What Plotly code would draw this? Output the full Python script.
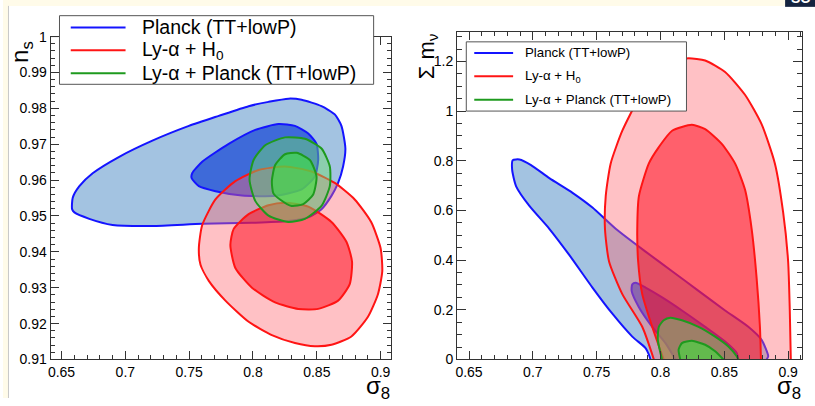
import plotly.graph_objects as go

# ---------------- tick labels ----------------
SIGMA8_TICKS = [0.65, 0.70, 0.75, 0.80, 0.85, 0.90]
SIGMA8_LABELS = ["0.65", "0.7", "0.75", "0.8", "0.85", "0.9"]
NS_TICKS = [0.91, 0.92, 0.93, 0.94, 0.95, 0.96, 0.97, 0.98, 0.99, 1.00]
NS_LABELS = ["0.91", "0.92", "0.93", "0.94", "0.95", "0.96", "0.97", "0.98", "0.99", "1"]
MNU_TICKS = [0, 0.2, 0.4, 0.6, 0.8, 1.0, 1.2]
MNU_LABELS = ["0", "0.2", "0.4", "0.6", "0.8", "1", "1.2"]

LEGEND_LABELS = ["Planck (TT+lowP)", "Ly-\u03b1 + H<sub>0</sub>", "Ly-\u03b1 + Planck (TT+lowP)"]

# ---------------- left panel: sigma8 vs n_s ----------------
PLANCK_NS_OUT_S8 = [0.6583, 0.6588, 0.6640, 0.6744, 0.6952, 0.7212, 0.7498, 0.7732, 0.7966, 0.8122,
                    0.8278, 0.8381, 0.8537, 0.8641, 0.8693, 0.8724, 0.8706, 0.8667, 0.8615, 0.8537,
                    0.8433, 0.8251, 0.7992, 0.7602, 0.7212, 0.6900, 0.6718, 0.6601]
PLANCK_NS_OUT_NS = [0.9519, 0.9551, 0.9583, 0.9619, 0.9665, 0.9710, 0.9751, 0.9779, 0.9806, 0.9818,
                    0.9827, 0.9824, 0.9806, 0.9783, 0.9751, 0.9688, 0.9638, 0.9592, 0.9556, 0.9519,
                    0.9496, 0.9485, 0.9481, 0.9478, 0.9472, 0.9475, 0.9492, 0.9510]
PLANCK_NS_IN_S8 = [0.7524, 0.7602, 0.7810, 0.8018, 0.8200, 0.8329, 0.8433, 0.8498, 0.8511, 0.8485,
                   0.8381, 0.8173, 0.7914, 0.7706, 0.7576, 0.7519]
PLANCK_NS_IN_NS = [0.9619, 0.9651, 0.9701, 0.9740, 0.9756, 0.9751, 0.9730, 0.9701, 0.9656, 0.9610,
                   0.9574, 0.9556, 0.9557, 0.9569, 0.9583, 0.9606]
LYAH0_NS_OUT_S8 = [0.7576, 0.7602, 0.7706, 0.7862, 0.8044, 0.8251, 0.8459, 0.8641, 0.8797, 0.8926,
                   0.9000, 0.9013, 0.8979, 0.8901, 0.8771, 0.8615, 0.8485, 0.8329, 0.8148, 0.7966,
                   0.7784, 0.7654, 0.7589]
LYAH0_NS_OUT_NS = [0.9410, 0.9474, 0.9546, 0.9597, 0.9628, 0.9638, 0.9624, 0.9592, 0.9546, 0.9483,
                   0.9410, 0.9346, 0.9282, 0.9219, 0.9164, 0.9141, 0.9137, 0.9146, 0.9168, 0.9205,
                   0.9264, 0.9319, 0.9364]
LYAH0_NS_IN_S8 = [0.7823, 0.7849, 0.7966, 0.8122, 0.8251, 0.8433, 0.8615, 0.8732, 0.8776, 0.8758,
                  0.8667, 0.8511, 0.8355, 0.8173, 0.7992, 0.7862]
LYAH0_NS_IN_NS = [0.9419, 0.9464, 0.9505, 0.9530, 0.9537, 0.9526, 0.9483, 0.9428, 0.9373, 0.9310,
                  0.9264, 0.9241, 0.9241, 0.9259, 0.9300, 0.9355]
LYAPL_NS_OUT_S8 = [0.7973, 0.8005, 0.8096, 0.8251, 0.8407, 0.8537, 0.8602, 0.8602, 0.8537, 0.8407,
                   0.8277, 0.8122, 0.8018]
LYAPL_NS_OUT_NS = [0.9601, 0.9656, 0.9697, 0.9719, 0.9715, 0.9688, 0.9638, 0.9583, 0.9528, 0.9492,
                   0.9483, 0.9501, 0.9542]
LYAPL_NS_IN_S8 = [0.8148, 0.8174, 0.8251, 0.8342, 0.8446, 0.8498, 0.8472, 0.8394, 0.8303, 0.8212, 0.8160]
LYAPL_NS_IN_NS = [0.9597, 0.9642, 0.9672, 0.9676, 0.9656, 0.9610, 0.9560, 0.9533, 0.9528, 0.9546, 0.9563]

# ---------------- right panel: sigma8 vs sum m_nu ----------------
PLANCK_MNU_OUT_S8 = [0.7922, 0.7909, 0.7883, 0.7779, 0.7623, 0.7467, 0.7285, 0.7129, 0.6973, 0.6869,
                     0.6838, 0.6843, 0.6895, 0.6986, 0.7129, 0.7311, 0.7467, 0.7649, 0.7883, 0.8091,
                     0.8298, 0.8506, 0.8688, 0.8792, 0.8844, 0.8831]
PLANCK_MNU_OUT_MNU = [0.0, 0.0197, 0.0461, 0.0921, 0.1842, 0.2895, 0.4211, 0.5263, 0.6184, 0.6974,
                      0.7632, 0.8026, 0.8053, 0.7829, 0.7303, 0.6711, 0.6118, 0.5263, 0.4342, 0.3553,
                      0.2763, 0.1974, 0.1316, 0.0789, 0.0132, 0.0]
PLANCK_MNU_IN_S8 = [0.8117, 0.8039, 0.7935, 0.7831, 0.7774, 0.7779, 0.7805, 0.7883, 0.8013, 0.8168,
                    0.8350, 0.8506, 0.8597, 0.8610]
PLANCK_MNU_IN_MNU = [0.0, 0.0658, 0.1316, 0.2105, 0.2763, 0.3026, 0.3092, 0.2895, 0.2500, 0.1974,
                     0.1316, 0.0724, 0.0263, 0.0]
LYAH0_MNU_OUT_S8 = [0.7948, 0.7857, 0.7701, 0.7597, 0.7565, 0.7571, 0.7610, 0.7701, 0.7831, 0.7987,
                    0.8116, 0.8220, 0.8350, 0.8506, 0.8662, 0.8792, 0.8896, 0.8961, 0.9000, 0.9013, 0.9021]
LYAH0_MNU_OUT_MNU = [0.0, 0.1316, 0.2632, 0.3947, 0.5263, 0.6579, 0.7895, 0.9211, 1.0526, 1.1645,
                     1.2039, 1.2132, 1.2039, 1.1579, 1.0658, 0.9474, 0.7895, 0.5921, 0.3947, 0.1974, 0.0]
LYAH0_MNU_IN_S8 = [0.8025, 0.7935, 0.7857, 0.7825, 0.7818, 0.7831, 0.7909, 0.7987, 0.8091, 0.8246,
                   0.8350, 0.8480, 0.8584, 0.8662, 0.8714, 0.8753, 0.8779, 0.8787]
LYAH0_MNU_IN_MNU = [0.0, 0.1316, 0.2632, 0.3947, 0.5263, 0.6579, 0.7895, 0.8553, 0.9211, 0.9447,
                    0.9276, 0.8684, 0.7895, 0.6842, 0.5263, 0.3289, 0.1316, 0.0]
LYAPL_MNU_OUT_S8 = [0.8012, 0.7979, 0.7987, 0.8025, 0.8077, 0.8168, 0.8298, 0.8428, 0.8532, 0.8597, 0.8610]
LYAPL_MNU_OUT_MNU = [0.0, 0.0789, 0.1316, 0.1579, 0.1684, 0.1579, 0.1316, 0.0921, 0.0526, 0.0132, 0.0]
LYAPL_MNU_IN_S8 = [0.8155, 0.8142, 0.8168, 0.8246, 0.8350, 0.8428, 0.8493]
LYAPL_MNU_IN_MNU = [0.0, 0.0395, 0.0658, 0.0750, 0.0592, 0.0329, 0.0]

# ---------------- styles ----------------
FONT = "Liberation Sans, Arial, Helvetica, sans-serif"
BLUE_LINE, RED_LINE, GREEN_LINE = "#1414ff", "#ff1414", "#1e9a1e"
STYLES = {
    "planck_out": ("#a3c3e1", BLUE_LINE),
    "planck_in": ("#3e6ad9", BLUE_LINE),
    "lyah0_out": ("rgba(255,100,110,0.40)", RED_LINE),
    "lyah0_in": ("rgba(255,0,20,0.50)", RED_LINE),
    "lyapl_out": ("rgba(110,220,110,0.45)", GREEN_LINE),
    "lyapl_in": ("rgba(60,225,60,0.60)", GREEN_LINE),
}

W, H = 815, 406


def PX(x):
    return x / W


def PY(y):
    return 1 - y / H


fig = go.Figure()


def add_contour(xs, ys, style, xa, ya, closed):
    fill, line = STYLES[style]
    if closed:
        xs = list(xs) + [xs[0]]
        ys = list(ys) + [ys[0]]
    fig.add_trace(go.Scatter(x=xs, y=ys, mode="lines", fill="toself", fillcolor=fill,
                             line=dict(color=line, width=2, shape="spline", smoothing=0.6),
                             xaxis=xa, yaxis=ya, showlegend=False, hoverinfo="skip"))


left = [(PLANCK_NS_OUT_S8, PLANCK_NS_OUT_NS, "planck_out"),
        (PLANCK_NS_IN_S8, PLANCK_NS_IN_NS, "planck_in"),
        (LYAH0_NS_OUT_S8, LYAH0_NS_OUT_NS, "lyah0_out"),
        (LYAH0_NS_IN_S8, LYAH0_NS_IN_NS, "lyah0_in"),
        (LYAPL_NS_OUT_S8, LYAPL_NS_OUT_NS, "lyapl_out"),
        (LYAPL_NS_IN_S8, LYAPL_NS_IN_NS, "lyapl_in")]
for xs, ys, st in left:
    add_contour(xs, ys, st, "x", "y", True)

right = [(PLANCK_MNU_OUT_S8, PLANCK_MNU_OUT_MNU, "planck_out"),
         (PLANCK_MNU_IN_S8, PLANCK_MNU_IN_MNU, "planck_in"),
         (LYAH0_MNU_OUT_S8, LYAH0_MNU_OUT_MNU, "lyah0_out"),
         (LYAH0_MNU_IN_S8, LYAH0_MNU_IN_MNU, "lyah0_in"),
         (LYAPL_MNU_OUT_S8, LYAPL_MNU_OUT_MNU, "lyapl_out"),
         (LYAPL_MNU_IN_S8, LYAPL_MNU_IN_MNU, "lyapl_in")]
for xs, ys, st in right:
    add_contour(xs, ys, st, "x2", "y2", False)

AX = "#333333"
tickfont = dict(family=FONT, size=14, color="black")


def axis(domain, rng, tv, tt, minor_dtick, minor_tick0, ticklen, minorlen, anchor):
    return dict(domain=domain, range=rng, tickmode="array", tickvals=tv, ticktext=tt,
                ticks="inside", ticklen=ticklen, tickwidth=1, tickcolor=AX,
                minor=dict(dtick=minor_dtick, tick0=minor_tick0, ticks="inside", ticklen=minorlen,
                           tickwidth=1, tickcolor=AX, showgrid=False),
                showline=True, linecolor=AX, linewidth=1, mirror="allticks",
                ticklabeloverflow="allow",
                showgrid=False, zeroline=False, tickfont=tickfont, anchor=anchor, fixedrange=True)


fig.update_layout(
    width=W, height=H, margin=dict(l=0, r=0, t=0, b=0),
    paper_bgcolor="white", plot_bgcolor="white", showlegend=False,
    xaxis=axis([PX(47.7), PX(389)], [0.6414, 0.9078], SIGMA8_TICKS, SIGMA8_LABELS, 0.01, 0.65, 8, 4, "y"),
    yaxis=axis([PY(366.7), PY(37.3)], [0.91, 1.0], NS_TICKS[:-1], NS_LABELS[:-1], 0.002, 0.91, 8, 4, "x"),
    xaxis2=axis([PX(455.7), PX(802)], [0.6406, 0.9109], SIGMA8_TICKS, SIGMA8_LABELS, 0.01, 0.65, 8, 4, "y2"),
    yaxis2=axis([PY(366.7), PY(32.3)], [0, 1.32], MNU_TICKS, MNU_LABELS, 0.05, 0, 9, 5, "x2"),
)

shapes = []
annotations = []

# top tick of the n_s axis (its tick mark and label at the upper range edge)
shapes.append(dict(type="line", xref="paper", yref="y", x0=PX(47.7), x1=PX(55.7),
                   y0=NS_TICKS[-1], y1=NS_TICKS[-1], line=dict(color=AX, width=1)))
annotations.append(dict(text=NS_LABELS[-1], xref="paper", yref="y", x=PX(46), y=NS_TICKS[-1],
                        xanchor="right", yanchor="middle", showarrow=False, font=tickfont))

# slide background strips
CREAM = "#fffbe9"
shapes.append(dict(type="rect", xref="paper", yref="paper", x0=0, x1=1, y0=PY(6), y1=1,
                   fillcolor=CREAM, line=dict(width=0), layer="above"))
shapes.append(dict(type="rect", xref="paper", yref="paper", x0=0, x1=PX(5), y0=0, y1=1,
                   fillcolor=CREAM, line=dict(width=0), layer="above"))
shapes.append(dict(type="line", xref="paper", yref="paper", x0=PX(5.5), x1=PX(5.5), y0=0, y1=PY(6),
                   line=dict(color="#c8c8c8", width=1), layer="above"))
shapes.append(dict(type="rect", xref="paper", yref="paper", x0=PX(785), x1=1, y0=PY(7), y1=1,
                   fillcolor="#15233f", line=dict(width=0), layer="above"))
annotations.append(dict(text="<b>SC</b>", xref="paper", yref="paper", x=PX(800), y=PY(8),
                        xanchor="center", yanchor="bottom", showarrow=False,
                        font=dict(family=FONT, size=14, color="white")))

# legends (drawn as boxes in the panel frames)
leg_colors = [BLUE_LINE, RED_LINE, GREEN_LINE]


def legend(box, line_x, rows, text_x, size):
    x0, y0, x1, y1 = box
    shapes.append(dict(type="rect", xref="paper", yref="paper", x0=PX(x0), x1=PX(x1),
                       y0=PY(y1), y1=PY(y0), fillcolor="white",
                       line=dict(color="#555555", width=1), layer="above"))
    for lab, col, ry in zip(LEGEND_LABELS, leg_colors, rows):
        shapes.append(dict(type="line", xref="paper", yref="paper", x0=PX(line_x[0]), x1=PX(line_x[1]),
                           y0=PY(ry), y1=PY(ry), line=dict(color=col, width=2), layer="above"))
        annotations.append(dict(text=lab, xref="paper", yref="paper", x=PX(text_x), y=PY(ry),
                                xanchor="left", yanchor="middle", showarrow=False,
                                font=dict(family=FONT, size=size, color="black")))


legend((56.7, 16, 372, 86), (68, 123), (28, 51.3, 74.7), 138, 19.5)
legend((465, 42.7, 686, 113.3), (473, 512), (54, 77.7, 101.7), 522, 13.3)

# axis titles
annotations.append(dict(text="\u03c3<sub>8</sub>", xref="paper", yref="paper", x=PX(390), y=PY(395),
                        xanchor="right", yanchor="middle", showarrow=False,
                        font=dict(family=FONT, size=24, color="black")))
annotations.append(dict(text="\u03c3<sub>8</sub>", xref="paper", yref="paper", x=PX(803), y=PY(395),
                        xanchor="right", yanchor="middle", showarrow=False,
                        font=dict(family=FONT, size=24, color="black")))
annotations.append(dict(text="n<sub>s</sub>", xref="paper", yref="paper", x=PX(19), y=PY(53),
                        xanchor="center", yanchor="middle", textangle=-90, showarrow=False,
                        font=dict(family=FONT, size=24, color="black")))
annotations.append(dict(text="\u03a3 m<sub>\u03bd</sub>", xref="paper", yref="paper", x=PX(426), y=PY(57),
                        xanchor="center", yanchor="middle", textangle=-90, showarrow=False,
                        font=dict(family=FONT, size=22, color="black")))

fig.update_layout(shapes=shapes, annotations=annotations)
fig.write_html("out.html")
